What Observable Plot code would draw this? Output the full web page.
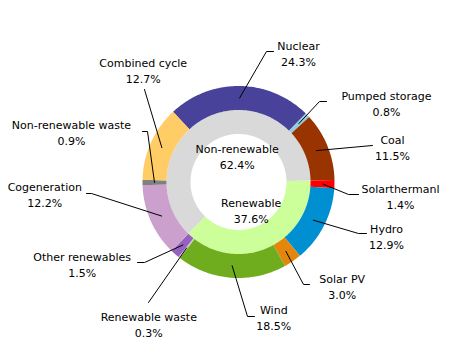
<!DOCTYPE html>
<html><head><meta charset="utf-8">
<script src="https://cdn.jsdelivr.net/npm/d3@7"></script>
<script src="https://cdn.jsdelivr.net/npm/@observablehq/plot@0.6"></script>
<style>body{margin:0;background:#fff}</style>
</head><body><div id="chart"></div>
<script>
// ---- data ----
const sources = ["Nuclear","Pumped storage","Coal","Solarthermanl","Hydro","Solar PV","Wind","Renewable waste","Other renewables","Cogeneration","Non-renewable waste","Combined cycle"];
const shares = [24.3,0.8,11.5,1.4,12.9,3.0,18.5,0.3,1.5,12.2,0.9,12.7];
const sourceGroup = ["Non-renewable","Non-renewable","Non-renewable","Renewable","Renewable","Renewable","Renewable","Renewable","Renewable","Non-renewable","Non-renewable","Non-renewable"];
const groups = ["Renewable","Non-renewable"];
const groupShares = [37.6, 62.4];

// ---- styles ----
const sourceColors = ["#48429a","#93cddd","#993300","#ff0000","#0090d2","#e2870c","#70ad1e","#c8c8c8","#9660c0","#cca0cc","#808080","#ffcc66"];
const groupColors = ["#ccff99","#d9d9d9"];

// ---- layout ----
const W = 464, H = 357;
const cx = 238, cy = 181.5;
const rHole = 48, rMid = 72, rOuter = 96, rLeader = 84;
const startDeg = -43;
// label block centres and leader elbows (manual placement, like the source chart)
const sourceLabelPos = [[298,52],[386,102],[392,146],[400,195.5],[386,235],[341.7,285],[273.3,316.7],[148.3,323],[81.7,263],[44.3,193],[71,131.7],[142.7,69.3]];
const leaderEnds = [[[266,51],[273,51]],[[319,101],[326,101]],[[372,145]],[[348,194],[358,194]],[[358,233],[366,233]],[[303,284],[309,284]],[[247,316],[254,316]],[[148,302]],[[144,262],[137,262]],[[91,193],[86,193]],[[147,131],[142,131]],[[144,89]]];
const groupLabelPos = [[250.7,209.2],[236.7,155.3]];

const total = d3.sum(shares);
const toDeg = v => v / total * 360;
const pt = (deg, r) => { const a = deg * Math.PI / 180; return {x: cx + r * Math.sin(a), y: cy - r * Math.cos(a)}; };
function ring(a0, a1, r0, r1) {
  const n = Math.max(2, Math.ceil((a1 - a0) / 1));
  const pts = [];
  for (let i = 0; i <= n; i++) pts.push(pt(a0 + (a1 - a0) * i / n, r1));
  for (let i = n; i >= 0; i--) pts.push(pt(a0 + (a1 - a0) * i / n, r0));
  return pts;
}

// outer slices
let cum = 0;
const outer = sources.map((s, i) => {
  const a0 = startDeg + toDeg(cum); cum += shares[i];
  const a1 = startDeg + toDeg(cum);
  return {name: s, value: shares[i], a0, a1, mid: (a0 + a1) / 2, color: sourceColors[i]};
});
// inner ring begins where the first renewable source begins
const firstRen = sourceGroup.indexOf("Renewable");
let gcum = d3.sum(shares.slice(0, firstRen));
const inner = groups.map((g, i) => {
  const a0 = startDeg + toDeg(gcum); gcum += groupShares[i];
  const a1 = startDeg + toDeg(gcum);
  return {name: g, value: groupShares[i], a0, a1, color: groupColors[i]};
});

const fmt = v => v.toFixed(1) + "%";
const labels = outer.map((d, i) => ({x: sourceLabelPos[i][0], y: sourceLabelPos[i][1], text: d.name + "\n" + fmt(d.value)}))
  .concat(inner.map((d, i) => ({x: groupLabelPos[i][0], y: groupLabelPos[i][1], text: d.name + "\n" + fmt(d.value)})));

const leaders = [];
outer.forEach((d, i) => {
  const p = pt(d.mid, rLeader);
  leaders.push({k: i, x: p.x, y: p.y});
  leaderEnds[i].forEach(e => leaders.push({k: i, x: e[0], y: e[1]}));
});

const marks = [];
inner.forEach(d => marks.push(Plot.line(ring(d.a0, d.a1, rHole, rMid), {x: "x", y: "y", fill: d.color, stroke: "none"})));
outer.forEach(d => marks.push(Plot.line(ring(d.a0, d.a1, rMid, rOuter), {x: "x", y: "y", fill: d.color, stroke: "none"})));
marks.push(Plot.line(leaders, {x: "x", y: "y", z: "k", stroke: "black", strokeWidth: 1}));
marks.push(Plot.text(labels, {x: "x", y: "y", text: "text", fontSize: 11, fontFamily: "DejaVu Sans", lineHeight: 16/11, fill: "black", textAnchor: "middle", lineAnchor: "middle"}));

const chart = Plot.plot({
  width: W, height: H, margin: 0,
  x: {domain: [0, W], range: [0, W], axis: null},
  y: {domain: [0, H], range: [0, H], axis: null},
  style: {background: "#fff"},
  marks
});
document.getElementById("chart").appendChild(chart);
</script>
</body></html>
